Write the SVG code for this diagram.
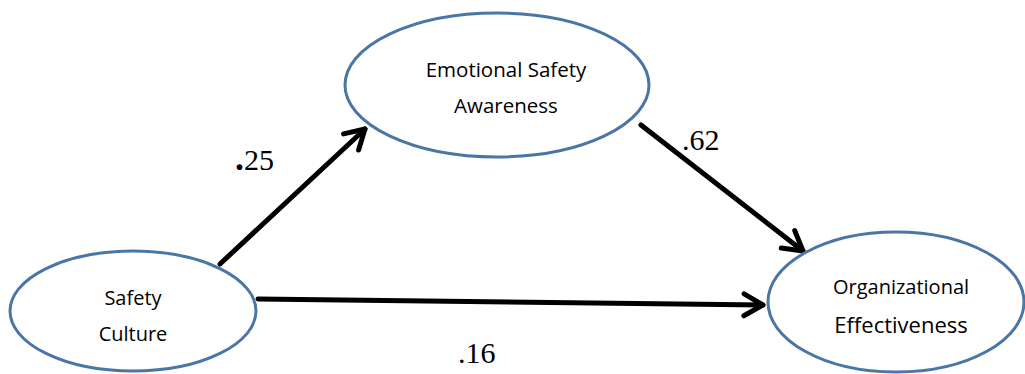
<svg xmlns="http://www.w3.org/2000/svg" width="1025" height="374" viewBox="0 0 1025 374">
<style>
.node{fill:#fff;stroke:#4a76a6;stroke-width:3}
.lbl{font-family:"Open Sans","Noto Sans",sans-serif;font-size:20px;fill:#000;text-anchor:middle}
.coef{font-family:"Liberation Serif","DejaVu Serif",serif;font-size:30px;fill:#000}
.edge{fill:none;stroke:#000;stroke-width:5;stroke-linecap:round}
</style>
<defs>
<marker id="arr" markerUnits="userSpaceOnUse" markerWidth="40" markerHeight="40" viewBox="-25 -20 30 40" refX="0" refY="0" orient="auto" overflow="visible">
<path d="M-19,-11 L0,0 L-19,11" fill="none" stroke="#000" stroke-width="5" stroke-linecap="round" stroke-linejoin="round"/>
</marker>
</defs>
<g id="connectors">
<line class="edge" x1="220" y1="264" x2="365" y2="129" marker-end="url(#arr)"/>
<line class="edge" x1="641" y1="125" x2="803" y2="251" marker-end="url(#arr)"/>
<line class="edge" x1="258" y1="299" x2="763" y2="305" marker-end="url(#arr)"/>
</g>
<g id="emotional">
<ellipse class="node" cx="497" cy="85" rx="152" ry="72"/>
<text class="lbl" x="506" y="77" style="font-size:20.5px">Emotional Safety</text>
<text class="lbl" x="506" y="113" style="font-size:20.5px">Awareness</text>
</g>
<g id="safety">
<ellipse class="node" cx="133" cy="311" rx="123" ry="60"/>
<text class="lbl" x="133" y="305">Safety</text>
<text class="lbl" x="133" y="341">Culture</text>
</g>
<g id="org">
<ellipse class="node" cx="896" cy="302" rx="128" ry="70"/>
<text class="lbl" x="901" y="294">Organizational</text>
<text class="lbl" x="901" y="333" style="font-size:22px">Effectiveness</text>
</g>
<g id="labels">
<text class="coef" x="235" y="170"><tspan font-weight="bold" style="font-size:36px">.</tspan>25</text>
<text class="coef" x="682" y="150">.62</text>
<text class="coef" x="458" y="363">.16</text>
</g>
</svg>
